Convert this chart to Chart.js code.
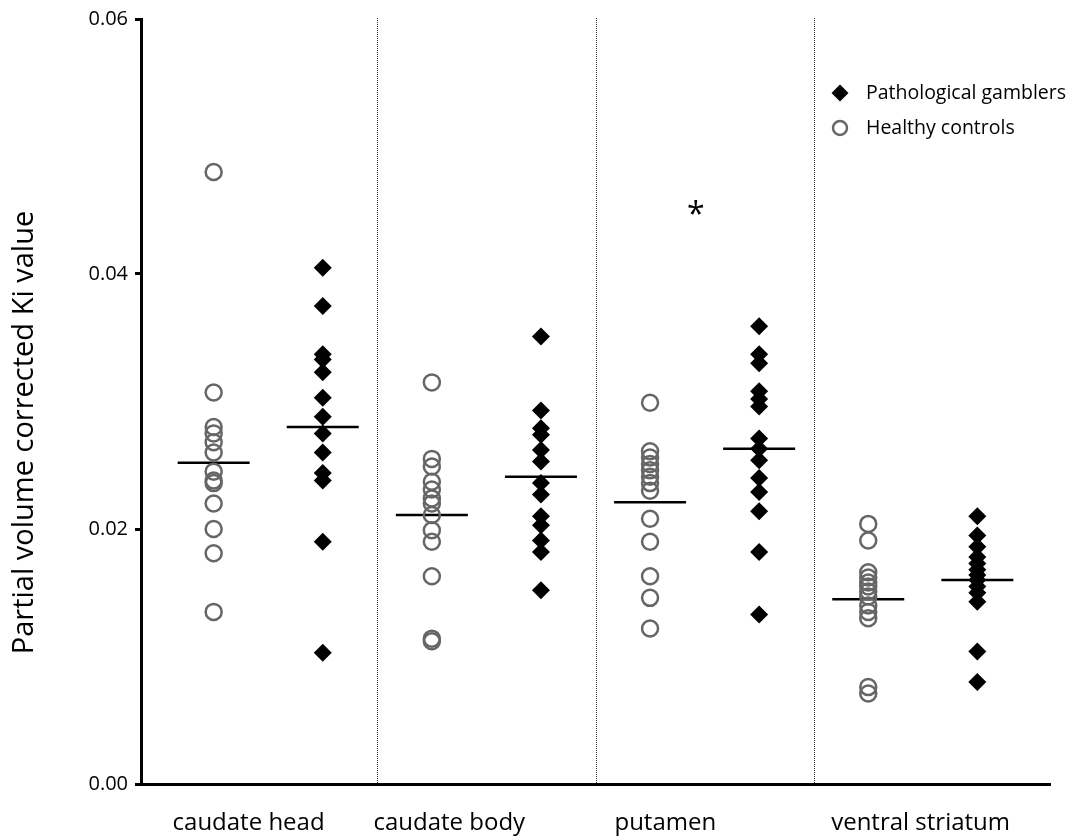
<!DOCTYPE html>
<html>
<head>
<meta charset="utf-8">
<script src="https://cdn.jsdelivr.net/npm/chart.js@4/dist/chart.umd.min.js"></script>
<style>
  html, body { margin: 0; padding: 0; background: #fff; }
  #wrap { width: 1073px; height: 837px; }
</style>
</head>
<body>
<div id="wrap"><canvas id="chart" width="1073" height="837"></canvas></div>
<script>
// regions of interest
const regions = ["caudate head", "caudate body", "putamen", "ventral striatum"];

// healthy controls (open circles), one list per region
const controlsHead = [0.0480, 0.0307, 0.0280, 0.0275, 0.0268, 0.0260, 0.0245, 0.0238, 0.0236, 0.0220, 0.0200, 0.0181, 0.0135];
const controlsBody = [0.0315, 0.0255, 0.0249, 0.0237, 0.0231, 0.0224, 0.0220, 0.0211, 0.0199, 0.0190, 0.0163, 0.0114, 0.0112];
const controlsPut = [0.0299, 0.0261, 0.0256, 0.0251, 0.0246, 0.0241, 0.0236, 0.0230, 0.0208, 0.0190, 0.0163, 0.0146, 0.0122];
const controlsVS = [0.0204, 0.0191, 0.0166, 0.0162, 0.0158, 0.0155, 0.0151, 0.0147, 0.0140, 0.0135, 0.0130, 0.0076, 0.0071];

// pathological gamblers (filled diamonds)
const gamblersHead = [0.0405, 0.0375, 0.0337, 0.0333, 0.0323, 0.0303, 0.0288, 0.0275, 0.0260, 0.0244, 0.0238, 0.0190, 0.0103];
const gamblersBody = [0.0351, 0.0293, 0.0279, 0.0274, 0.0262, 0.0253, 0.0236, 0.0227, 0.0210, 0.0203, 0.0191, 0.0182, 0.0152];
const gamblersPut = [0.0359, 0.0337, 0.0330, 0.0308, 0.0302, 0.0296, 0.0271, 0.0263, 0.0254, 0.0240, 0.0229, 0.0214, 0.0182, 0.0133];
const gamblersVS = [0.0210, 0.0195, 0.0186, 0.0178, 0.0173, 0.0168, 0.0164, 0.0160, 0.0155, 0.0150, 0.0143, 0.0104, 0.0080];

// group means (horizontal bars)
const controlMeans = [0.0252, 0.0211, 0.0221, 0.0145];
const gamblerMeans = [0.0280, 0.0241, 0.0263, 0.0160];

const yTicks = [0.00, 0.02, 0.04, 0.06];
const seriesNames = ["Pathological gamblers", "Healthy controls"];
const yTitle = "Partial volume corrected Ki value";
const sigRegion = 2; // asterisk over putamen
const sigValue = 0.045;

// layout bits
const FONT = "'Open Sans', 'DejaVu Sans', sans-serif";
const shift = 0.25;       // control left, gambler right of region centre
const meanHalf = 0.165;   // half width of the mean bar
const labelX = [-0.09, 0.83, 1.82, 2.99]; // where the region names sit

const controls = [controlsHead, controlsBody, controlsPut, controlsVS];
const gamblers = [gamblersHead, gamblersBody, gamblersPut, gamblersVS];

function points(groups, dx) {
  const out = [];
  groups.forEach((vals, i) => vals.forEach(v => out.push({ x: i + dx, y: v })));
  return out;
}

function meanSegs(means, dx) {
  const out = [];
  means.forEach((m, i) => {
    out.push({ x: i + dx - meanHalf, y: m });
    out.push({ x: i + dx + meanHalf, y: m });
    out.push({ x: i + dx + meanHalf + 0.01, y: null });
  });
  return out;
}

const extras = {
  id: "extras",
  beforeDatasetsDraw(chart) {
    const ctx = chart.ctx;
    const xs = chart.scales.x;
    const area = chart.chartArea;
    // dotted separators between regions
    ctx.save();
    ctx.strokeStyle = "#333";
    ctx.lineWidth = 1;
    ctx.setLineDash([1, 1]);
    for (let i = 0; i < regions.length - 1; i++) {
      const px = Math.round(xs.getPixelForValue(i + 0.5)) + 0.5;
      ctx.beginPath();
      ctx.moveTo(px, area.top - 1);
      ctx.lineTo(px, area.bottom);
      ctx.stroke();
    }
    ctx.restore();
  },
  afterDraw(chart) {
    const ctx = chart.ctx;
    const xs = chart.scales.x;
    const ys = chart.scales.y;
    const area = chart.chartArea;
    ctx.save();
    ctx.fillStyle = "#000";

    // y title
    ctx.save();
    ctx.translate(25, (area.top + area.bottom) / 2 + 31);
    ctx.rotate(-Math.PI / 2);
    ctx.font = "29px " + FONT;
    ctx.textAlign = "center";
    ctx.textBaseline = "middle";
    ctx.fillText(yTitle, 0, 0);
    ctx.restore();

    // significance asterisk
    ctx.font = "32px " + FONT;
    ctx.textAlign = "center";
    ctx.textBaseline = "middle";
    ctx.fillText("*", xs.getPixelForValue(sigRegion - 0.04), ys.getPixelForValue(sigValue) + 6);

    // legend
    const lx = 840, ly = 93, gap = 35;
    ctx.beginPath();
    ctx.moveTo(lx, ly - 8.5);
    ctx.lineTo(lx + 8.5, ly);
    ctx.lineTo(lx, ly + 8.5);
    ctx.lineTo(lx - 8.5, ly);
    ctx.closePath();
    ctx.fill();
    ctx.beginPath();
    ctx.arc(lx, ly + gap, 7, 0, Math.PI * 2);
    ctx.strokeStyle = "#666";
    ctx.lineWidth = 2.5;
    ctx.stroke();
    ctx.font = "19.5px " + FONT;
    ctx.textAlign = "left";
    ctx.textBaseline = "middle";
    ctx.fillText(seriesNames[0], 866, ly);
    ctx.fillText(seriesNames[1], 866, ly + gap);
    ctx.restore();
  }
};

new Chart(document.getElementById("chart"), {
  type: "scatter",
  data: {
    datasets: [
      {
        label: seriesNames[1],
        data: points(controls, -shift),
        pointStyle: "circle",
        pointRadius: 8,
        pointHoverRadius: 8,
        backgroundColor: "rgba(0,0,0,0)",
        borderColor: "#666",
        borderWidth: 2.5
      },
      {
        label: seriesNames[0],
        data: points(gamblers, shift),
        pointStyle: "rectRot",
        pointRadius: 9,
        pointHoverRadius: 9,
        backgroundColor: "#000",
        borderColor: "#000",
        borderWidth: 0
      },
      {
        label: "mean controls",
        data: meanSegs(controlMeans, -shift),
        showLine: true,
        spanGaps: false,
        pointRadius: 0,
        borderColor: "#000",
        borderWidth: 2.5
      },
      {
        label: "mean gamblers",
        data: meanSegs(gamblerMeans, shift),
        showLine: true,
        spanGaps: false,
        pointRadius: 0,
        borderColor: "#000",
        borderWidth: 2.5
      }
    ]
  },
  options: {
    responsive: false,
    animation: false,
    layout: { padding: { left: 87, right: 23, top: 19, bottom: 0 } },
    plugins: {
      legend: { display: false },
      tooltip: { enabled: false }
    },
    scales: {
      x: {
        type: "linear",
        min: -0.583,
        max: 3.583,
        afterBuildTicks: s => { s.ticks = labelX.map(v => ({ value: v })); },
        afterFit: s => { s.height = 53; },
        grid: { display: false },
        border: { display: true, color: "#000", width: 3 },
        ticks: {
          autoSkip: false,
          maxRotation: 0,
          padding: 17,
          color: "#000",
          font: { family: FONT, size: 24 },
          callback: (v, i) => regions[i]
        }
      },
      y: {
        min: 0,
        max: 0.06,
        afterBuildTicks: s => { s.ticks = yTicks.map(v => ({ value: v })); },
        afterFit: s => { s.width = 54; },
        grid: {
          display: true,
          drawOnChartArea: false,
          drawTicks: true,
          tickLength: 6,
          tickWidth: 3,
          tickColor: "#000"
        },
        border: { display: true, color: "#000", width: 3 },
        ticks: {
          padding: 7,
          color: "#000",
          font: { family: FONT, size: 20 },
          callback: v => v.toFixed(2)
        }
      }
    }
  },
  plugins: [extras]
});
</script>
</body>
</html>
